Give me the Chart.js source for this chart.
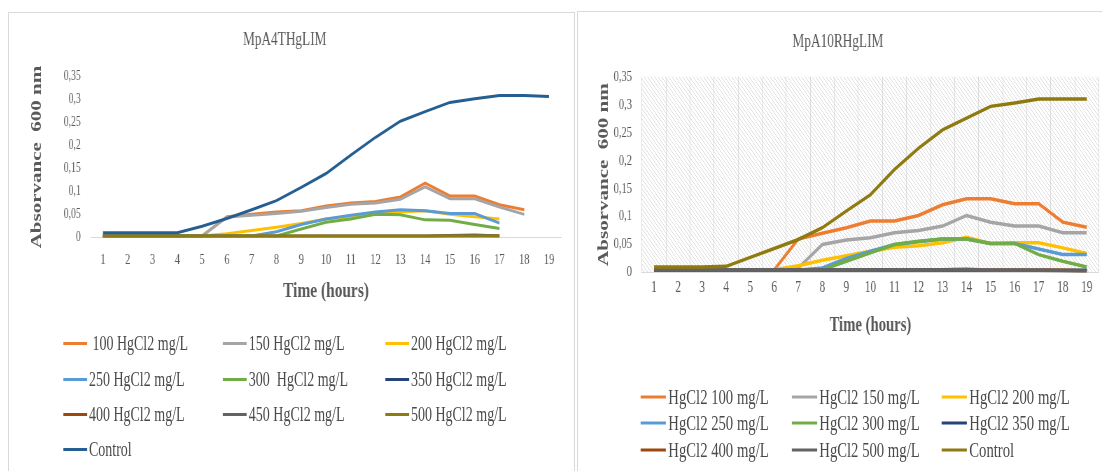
<!DOCTYPE html>
<html><head><meta charset="utf-8">
<script src="https://cdn.jsdelivr.net/npm/chart.js@4.4.1/dist/chart.umd.min.js"></script>
<style>
html,body{margin:0;padding:0;background:#fff;width:1102px;height:471px;overflow:hidden;position:relative;font-family:"Liberation Serif","Times New Roman",serif;}
.frame{position:absolute;border:1px solid #d9d9d9;box-sizing:border-box;}
.squeeze{position:absolute;transform:scaleX(0.7);transform-origin:0 0;}
.box{position:absolute;left:0;top:0;}
.legend{position:absolute;left:0;top:0;width:100%;height:100%;}
.item{position:absolute;display:flex;align-items:center;white-space:pre;color:#4a4a4a;line-height:1;transform:translateY(-50%);}
.item i{display:inline-block;height:3px;margin-right:3px;}
</style></head>
<body>
<div class="frame" style="left:8px;top:12px;width:567px;height:470px"></div>
<div class="frame" style="left:577px;top:11px;width:540px;height:470px"></div>
<div class="squeeze" style="left:8px;top:12px;width:809px;height:459px">
  <div class="box" style="width:809px;height:310px"><canvas id="c1"></canvas></div>
  <div class="legend" id="l1"></div>
</div>
<div class="squeeze" style="left:577px;top:11px;width:750px;height:460px">
  <div class="box" style="width:750px;height:340px"><canvas id="c2"></canvas></div>
  <div class="legend" id="l2"></div>
</div>
<script>
// ---------- DATA ----------
const hours = ['1','2','3','4','5','6','7','8','9','10','11','12','13','14','15','16','17','18','19'];
const yTickValues = [0, 0.05, 0.1, 0.15, 0.2, 0.25, 0.3, 0.35];
const yTickLabels = ['0', '0,05', '0,1', '0,15', '0,2', '0,25', '0,3', '0,35'];

// MpA4THgLIM
const a4tTitle = 'MpA4THgLIM';
const a4tNames = [' 100 HgCl2 mg/L', '150 HgCl2 mg/L', '200 HgCl2 mg/L', '250 HgCl2 mg/L', '300  HgCl2 mg/L',
                  '350 HgCl2 mg/L', '400 HgCl2 mg/L', '450 HgCl2 mg/L', '500 HgCl2 mg/L', 'Control'];
const a4t100 = [0.003,0.003,0.003,0.003,0.003,0.045,0.05,0.055,0.058,0.068,0.075,0.078,0.088,0.118,0.09,0.09,0.071,0.06,null];
const a4t150 = [0.003,0.003,0.003,0.003,0.003,0.044,0.048,0.052,0.057,0.065,0.072,0.075,0.083,0.11,0.084,0.084,0.066,0.05,null];
const a4t200 = [0.003,0.003,0.003,0.003,0.003,0.008,0.015,0.022,0.03,0.04,0.045,0.05,0.055,0.058,0.05,0.045,0.04,null,null];
const a4t250 = [0.003,0.003,0.003,0.003,0.003,0.003,0.003,0.012,0.028,0.04,0.048,0.055,0.06,0.058,0.052,0.052,0.031,null,null];
const a4t300 = [0.003,0.003,0.003,0.003,0.003,0.003,0.003,0.003,0.018,0.033,0.04,0.05,0.049,0.038,0.037,0.028,0.019,null,null];
const a4t350 = [0.002,0.002,0.002,0.002,0.002,0.002,0.002,0.002,0.002,0.002,0.002,0.002,0.002,0.002,0.002,0.002,0.002,null,null];
const a4t400 = [0.002,0.002,0.002,0.002,0.002,0.002,0.002,0.002,0.002,0.002,0.002,0.002,0.002,0.002,0.003,0.004,0.003,null,null];
const a4t450 = [0.003,0.003,0.003,0.003,0.003,0.003,0.003,0.003,0.003,0.003,0.003,0.003,0.003,0.003,0.004,0.005,0.003,null,null];
const a4t500 = [0.003,0.003,0.003,0.003,0.003,0.003,0.003,0.003,0.003,0.003,0.003,0.003,0.003,0.003,0.003,0.003,0.003,null,null];
const a4tCtrl = [0.01,0.01,0.01,0.01,0.024,0.041,0.06,0.08,0.109,0.139,0.179,0.218,0.253,0.274,0.294,0.302,0.309,0.309,0.307];

// MpA10RHgLIM
const a10rTitle = 'MpA10RHgLIM';
const a10rNames = ['HgCl2 100 mg/L', 'HgCl2 150 mg/L', 'HgCl2 200 mg/L', 'HgCl2 250 mg/L', 'HgCl2 300 mg/L',
                   'HgCl2 350 mg/L', 'HgCl2 400 mg/L', 'HgCl2 500 mg/L', 'Control'];
const a10r100 = [0.005,0.005,0.005,0.005,0.005,0.005,0.06,0.07,0.08,0.092,0.092,0.102,0.121,0.132,0.132,0.123,0.123,0.09,0.081];
const a10r150 = [0.005,0.005,0.005,0.005,0.005,0.005,0.008,0.05,0.058,0.062,0.071,0.075,0.083,0.102,0.09,0.083,0.083,0.071,0.071];
const a10r200 = [0.005,0.005,0.005,0.005,0.005,0.005,0.012,0.022,0.03,0.038,0.045,0.048,0.053,0.063,0.052,0.053,0.053,0.044,0.034];
const a10r250 = [0.004,0.004,0.004,0.004,0.004,0.004,0.004,0.008,0.025,0.038,0.05,0.055,0.06,0.06,0.052,0.052,0.042,0.032,0.032];
const a10r300 = [0.004,0.004,0.004,0.004,0.004,0.004,0.004,0.005,0.02,0.035,0.05,0.056,0.06,0.06,0.052,0.052,0.032,0.02,0.01];
const a10r350 = [0.004,0.004,0.004,0.004,0.004,0.004,0.004,0.004,0.004,0.004,0.004,0.004,0.004,0.004,0.004,0.004,0.004,0.004,0.004];
const a10r400 = [0.004,0.004,0.004,0.004,0.004,0.004,0.004,0.004,0.004,0.004,0.004,0.004,0.004,0.004,0.004,0.004,0.004,0.004,0.003];
const a10r500 = [0.005,0.005,0.005,0.005,0.005,0.005,0.005,0.005,0.005,0.005,0.005,0.005,0.005,0.006,0.004,0.004,0.004,0.003,0.002];
const a10rCtrl = [0.01,0.01,0.01,0.011,0.027,0.043,0.059,0.08,0.11,0.139,0.184,0.222,0.255,0.276,0.297,0.303,0.31,0.31,0.31];

// ---------- STYLE ----------
const a4tColors = ['#ED7D31','#A5A5A5','#FFC000','#5B9BD5','#70AD47','#264478','#9E480E','#636363','#8f7a10','#255E91'];
const a10rColors = ['#ED7D31','#A5A5A5','#FFC000','#5B9BD5','#70AD47','#264478','#9E480E','#636363','#8f7a10'];

Chart.defaults.font.family = '"Liberation Serif","Times New Roman",serif';
Chart.defaults.color = '#595959';

const hatchPlugin = {
  id: 'hatch',
  beforeDraw(chart, args, opts) {
    if (!opts || !opts.on) return;
    const {ctx, chartArea: a} = chart;
    const n = 5;
    const tile = document.createElement('canvas');
    tile.width = n; tile.height = n;
    const t = tile.getContext('2d');
    t.fillStyle = '#ffffff'; t.fillRect(0, 0, n, n);
    t.strokeStyle = '#dadada'; t.lineWidth = 1;
    t.beginPath();
    t.moveTo(-1, -1); t.lineTo(n + 1, n + 1);
    t.moveTo(-1, n - 1); t.lineTo(1, n + 1);
    t.moveTo(n - 1, -1); t.lineTo(n + 1, 1);
    t.stroke();
    ctx.save();
    ctx.fillStyle = ctx.createPattern(tile, 'repeat');
    ctx.fillRect(a.left, a.top, a.right - a.left, a.bottom - a.top);
    ctx.restore();
  }
};

function build(canvasId, legendId, title, names, series, colors, L) {
  const n = series.length;
  const datasets = series.map((d, i) => ({
    label: names[i], data: d, borderColor: colors[i], backgroundColor: colors[i],
    borderWidth: L.lineWidth, pointRadius: 0, tension: 0, fill: false, order: n - i
  }));
  const chart = new Chart(document.getElementById(canvasId), {
    type: 'line',
    data: {labels: hours, datasets},
    plugins: [hatchPlugin],
    options: {
      responsive: true, maintainAspectRatio: false, animation: false, devicePixelRatio: 1, events: [],
      layout: {padding: {left: 0, right: L.padRight, top: 0, bottom: 0}},
      plugins: {
        legend: {display: false}, tooltip: {enabled: false},
        hatch: {on: L.hatch},
        title: {display: true, text: title, color: '#595959',
                font: {size: L.titleSize, weight: 'normal'},
                padding: {top: L.titlePadTop, bottom: L.titlePadBottom}}
      },
      scales: {
        x: {
          type: 'category', offset: true,
          afterFit: s => { s.height = L.xHeight; },
          grid: {display: L.xGrid, offset: true, drawTicks: false, color: 'rgba(185,185,185,0.45)', lineWidth: 1},
          border: {display: true, color: '#d9d9d9', width: 1},
          ticks: {autoSkip: false, maxRotation: 0, color: '#595959', font: {size: L.xTickSize}, padding: L.xTickPad},
          title: {display: true, text: 'Time (hours)', color: '#595959',
                  font: {size: L.xTitleSize, weight: 'bold'}, padding: {top: 0, bottom: L.xTitlePad}}
        },
        y: {
          min: 0, max: 0.35,
          afterFit: s => { s.width = L.yWidth; },
          afterBuildTicks: s => { s.ticks = yTickValues.map(v => ({value: v})); },
          grid: {display: false, drawTicks: false},
          border: {display: false},
          ticks: {color: '#595959', font: {size: L.yTickSize}, padding: L.yTickPad,
                  callback: (v, i) => yTickLabels[i]},
          title: {display: true, text: 'Absorvance  600 nm', color: '#595959',
                  font: {size: L.yTitleSize, weight: 'bold'}, padding: {top: L.yTitlePad, bottom: 0}}
        }
      }
    }
  });
  const lg = document.getElementById(legendId);
  chart.data.datasets.forEach((ds, i) => {
    const it = document.createElement('div');
    it.className = 'item';
    it.style.left = L.legCols[i % 3] + 'px';
    it.style.top = L.legRows[Math.floor(i / 3)] + 'px';
    it.style.fontSize = L.legFont + 'px';
    const sw = document.createElement('i');
    sw.style.width = L.legLine + 'px';
    sw.style.background = ds.borderColor;
    const tx = document.createElement('span');
    tx.textContent = ds.label;
    it.appendChild(sw); it.appendChild(tx);
    lg.appendChild(it);
  });
  return chart;
}

build('c1', 'l1', a4tTitle, a4tNames,
  [a4t100, a4t150, a4t200, a4t250, a4t300, a4t350, a4t400, a4t450, a4t500, a4tCtrl], a4tColors,
  {padRight: 18.4, yWidth: 118, xHeight: 84.7, titleSize: 19, titlePadTop: 16.6, titlePadBottom: 25.3,
   yTitleSize: 21, yTitlePad: 28.8, yTickSize: 14, yTickPad: 14, xTickSize: 15, xTickPad: 13.7,
   xTitleSize: 22, xTitlePad: 17.8, lineWidth: 3, hatch: false, xGrid: false,
   legCols: [78.6, 307, 538.6], legRows: [331, 367, 402, 437], legLine: 34, legFont: 20});

build('c2', 'l2', a10rTitle, a10rNames,
  [a10r100, a10r150, a10r200, a10r250, a10r300, a10r350, a10r400, a10r500, a10rCtrl], a10rColors,
  {padRight: 4.6, yWidth: 92.9, xHeight: 78.5, titleSize: 19, titlePadTop: 19.6, titlePadBottom: 23.3,
   yTitleSize: 21, yTitlePad: 26, yTickSize: 15, yTickPad: 14.3, xTickSize: 16, xTickPad: 5.9,
   xTitleSize: 21, xTitlePad: 12.4, lineWidth: 3.5, hatch: true, xGrid: true,
   legCols: [91.4, 307.1, 521.4], legRows: [385.7, 412.3, 439], legLine: 36, legFont: 21});
</script>
</body></html>
